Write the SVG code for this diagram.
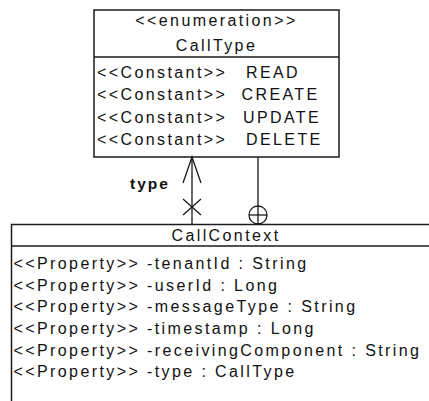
<svg xmlns="http://www.w3.org/2000/svg" width="429" height="401" viewBox="0 0 429 401">
<style>
  .box { fill: #ffffff; stroke: #1a1a1a; stroke-width: 1.5; }
  .div { stroke: #1a1a1a; stroke-width: 1.5; }
  .t { font-family: "Liberation Sans", Arial, sans-serif; font-size: 16px; letter-spacing: 2.4px; fill: #111111; }
  .lbl { font-family: "Liberation Sans", Arial, sans-serif; font-size: 15.5px; font-weight: bold; letter-spacing: 2px; fill: #111111; }
  .ln { fill: none; stroke: #1a1a1a; stroke-width: 1.3; }
</style>
<rect width="429" height="401" fill="#ffffff"/>
<g id="CallType">
  <rect class="box" x="94" y="10" width="245" height="147"/>
  <line class="div" x1="94" y1="57" x2="339" y2="57"/>
  <text class="t" x="216.5" y="26" text-anchor="middle">&lt;&lt;enumeration&gt;&gt;</text>
  <text class="t" x="216.5" y="51" text-anchor="middle">CallType</text>
  <text class="t" x="97" y="78">&lt;&lt;Constant&gt;&gt;<tspan x="246">READ</tspan></text>
  <text class="t" x="97" y="100">&lt;&lt;Constant&gt;&gt;<tspan x="241.5">CREATE</tspan></text>
  <text class="t" x="97" y="123">&lt;&lt;Constant&gt;&gt;<tspan x="243">UPDATE</tspan></text>
  <text class="t" x="97" y="145">&lt;&lt;Constant&gt;&gt;<tspan x="246">DELETE</tspan></text>
</g>
<g id="CallContext">
  <rect class="box" x="11.5" y="224.5" width="430" height="190"/>
  <line class="div" x1="11.5" y1="246" x2="441" y2="246"/>
  <text class="t" x="226" y="241" text-anchor="middle">CallContext</text>
  <text class="t" x="13.5" y="269">&lt;&lt;Property&gt;&gt; -tenantId : String</text>
  <text class="t" x="13.5" y="291">&lt;&lt;Property&gt;&gt; -userId : Long</text>
  <text class="t" x="13.5" y="312">&lt;&lt;Property&gt;&gt; -messageType : String</text>
  <text class="t" x="13.5" y="334">&lt;&lt;Property&gt;&gt; -timestamp : Long</text>
  <text class="t" x="13.5" y="356">&lt;&lt;Property&gt;&gt; -receivingComponent : String</text>
  <text class="t" x="13.5" y="377">&lt;&lt;Property&gt;&gt; -type : CallType</text>
</g>
<g id="connectors">
  <line class="ln" x1="192" y1="157" x2="192" y2="224"/>
  <polyline class="ln" points="183,183 192,157 201,183"/>
  <line class="ln" x1="183" y1="199" x2="201" y2="215"/>
  <line class="ln" x1="201" y1="199" x2="183" y2="215"/>
  <text class="lbl" x="130" y="189">type</text>
  <line class="ln" x1="258" y1="157" x2="258" y2="224"/>
  <circle class="ln" cx="258" cy="215" r="9"/>
  <line class="ln" x1="249" y1="215" x2="267" y2="215"/>
</g>
</svg>
